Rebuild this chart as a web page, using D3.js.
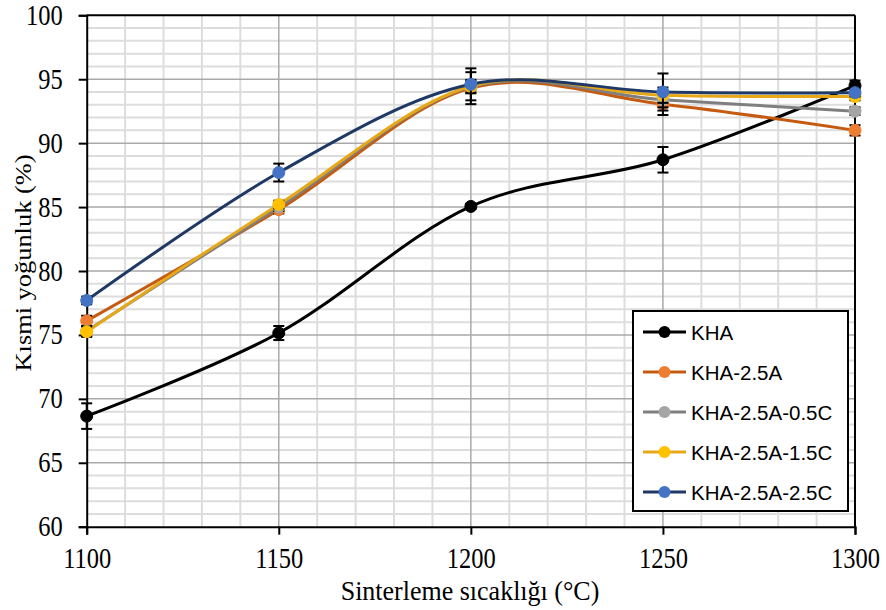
<!DOCTYPE html>
<html><head><meta charset="utf-8">
<script src="https://cdn.jsdelivr.net/npm/d3@7"></script>
<style>body{margin:0;background:#fff}svg{display:block}</style>
</head><body>
<svg id="chart" width="886" height="610"></svg>
<script>
const temps = [1100, 1150, 1200, 1250, 1300];
const seriesNames = ["KHA", "KHA-2.5A", "KHA-2.5A-0.5C", "KHA-2.5A-1.5C", "KHA-2.5A-2.5C"];
const khaValues   = [68.65, 75.15, 85.05, 88.7, 94.5];
const a25Values   = [76.1, 84.8, 94.3, 93.05, 91.0];
const c05Values   = [75.3, 85.0, 94.4, 93.4, 92.5];
const c15Values   = [75.25, 85.2, 94.45, 93.75, 93.65];
const c25Values   = [77.7, 87.7, 94.6, 94.0, 93.95];
const khaErr = [1.0, 0.55, 0.2, 1.0, 0.4];
const a25Err = [0.4, 0.3, 1.25, 0.85, 0.4];
const c05Err = [0.4, 0.3, 0.5, 0.6, 0.3];
const c15Err = [0.4, 0.3, 0.5, 0.6, 0.3];
const c25Err = [0.3, 0.7, 1.25, 1.45, 0.3];
const xTicks = [1100, 1150, 1200, 1250, 1300];
const yTicks = [60, 65, 70, 75, 80, 85, 90, 95, 100];
const lineColors = ["#000000", "#C55A11", "#7F7F7F", "#E6A817", "#203864"];
const markerColors = ["#000000", "#ED7D31", "#A5A5A5", "#FFC000", "#4472C4"];
const xTitle = "Sinterleme sıcaklığı (°C)";
const yTitle = "Kısmi yoğunluk (%)";

const allValues = [khaValues, a25Values, c05Values, c15Values, c25Values];
const allErr = [khaErr, a25Err, c05Err, c15Err, c25Err];

const svg = d3.select("#chart");
const L = 86.7, R = 855, T = 15.3, B = 526.7;
const x = d3.scaleLinear().domain([1100, 1300]).range([L, R]);
const y = d3.scaleLinear().domain([60, 100]).range([B, T]);

// minor grid
const g = svg.append("g");
g.selectAll(".mh").data(d3.range(61, 100).filter(v => v % 5 !== 0)).join("line")
  .attr("x1", L).attr("x2", R).attr("y1", d => y(d)).attr("y2", d => y(d))
  .attr("stroke", "#DDDDDD").attr("stroke-width", 2);
g.selectAll(".mv").data(d3.range(1110, 1300, 10).filter(v => v % 50 !== 0)).join("line")
  .attr("y1", T).attr("y2", B).attr("x1", d => x(d)).attr("x2", d => x(d))
  .attr("stroke", "#DDDDDD").attr("stroke-width", 2);
// major grid
g.selectAll(".Mh").data(yTicks.slice(1, -1)).join("line")
  .attr("x1", L).attr("x2", R).attr("y1", d => y(d)).attr("y2", d => y(d))
  .attr("stroke", "#A9A9A9").attr("stroke-width", 1.5);
g.selectAll(".Mv").data(xTicks.slice(1, -1)).join("line")
  .attr("y1", T).attr("y2", B).attr("x1", d => x(d)).attr("x2", d => x(d))
  .attr("stroke", "#A9A9A9").attr("stroke-width", 1.5);

// axes
const yAxis = svg.append("g").attr("transform", `translate(${L},0)`)
  .call(d3.axisLeft(y).tickValues(yTicks).tickSize(8).tickPadding(0).tickFormat(d3.format("d")));
const xAxis = svg.append("g").attr("transform", `translate(0,${B})`)
  .call(d3.axisBottom(x).tickValues(xTicks).tickSize(8).tickPadding(0).tickFormat(d3.format("d")));
[yAxis, xAxis].forEach(a => {
  a.select(".domain").attr("stroke", "#000").attr("stroke-width", 2);
  a.selectAll(".tick line").attr("stroke", "#000").attr("stroke-width", 2);
  a.selectAll("text").attr("font-family", "'Liberation Serif','Times New Roman',serif")
    .attr("font-size", 24.5).attr("fill", "#000");
});
yAxis.selectAll(".tick text").attr("x", null).attr("dy", null)
  .attr("text-anchor", "end")
  .attr("transform", "translate(-24,9) scale(1,1.2)");
xAxis.selectAll(".tick text").attr("y", null).attr("dy", null)
  .attr("transform", "translate(0,41) scale(1,1.2)");
// top and right frame
svg.append("line").attr("x1", L).attr("x2", R).attr("y1", T).attr("y2", T).attr("stroke", "#000").attr("stroke-width", 2);
svg.append("line").attr("x1", R).attr("x2", R).attr("y1", T).attr("y2", B).attr("stroke", "#000").attr("stroke-width", 2);

// series
const line = d3.line().x((d, i) => x(temps[i])).y(d => y(d)).curve(d3.curveCardinal.tension(0));
allValues.forEach((vals, s) => {
  const sg = svg.append("g");
  sg.append("path").attr("d", line(vals)).attr("fill", "none")
    .attr("stroke", lineColors[s]).attr("stroke-width", 3);
  const errs = allErr[s];
  vals.forEach((v, i) => {
    const cx = x(temps[i]);
    sg.append("line").attr("x1", cx).attr("x2", cx).attr("y1", y(v - errs[i])).attr("y2", y(v + errs[i]))
      .attr("stroke", "#000").attr("stroke-width", 2);
    [v - errs[i], v + errs[i]].forEach(e => {
      sg.append("line").attr("x1", cx - 5.5).attr("x2", cx + 5.5).attr("y1", y(e)).attr("y2", y(e))
        .attr("stroke", "#000").attr("stroke-width", 2);
    });
  });
  sg.selectAll("circle").data(vals).join("circle")
    .attr("cx", (d, i) => x(temps[i])).attr("cy", d => y(d)).attr("r", 6)
    .attr("fill", markerColors[s]).attr("stroke", markerColors[s]).attr("stroke-width", 1);
});

// titles
svg.append("text").attr("font-family", "'Liberation Serif','Times New Roman',serif")
  .attr("font-size", 26).attr("text-anchor", "middle")
  .attr("transform", `translate(470,600) scale(1,1.08)`).text(xTitle);
svg.append("text").attr("font-family", "'Liberation Serif','Times New Roman',serif")
  .attr("font-size", 24).attr("text-anchor", "middle")
  .attr("transform", `translate(31,263) rotate(-90) scale(1.1,1)`).text(yTitle);

// legend
const lg = svg.append("g");
lg.append("rect").attr("x", 633).attr("y", 311).attr("width", 215).attr("height", 200)
  .attr("fill", "#fff").attr("stroke", "#000").attr("stroke-width", 2);
seriesNames.forEach((name, i) => {
  const ly = 332 + i * 40;
  lg.append("line").attr("x1", 643).attr("x2", 686).attr("y1", ly).attr("y2", ly)
    .attr("stroke", lineColors[i]).attr("stroke-width", 3);
  lg.append("circle").attr("cx", 664.5).attr("cy", ly).attr("r", 6).attr("fill", markerColors[i]);
  lg.append("text").attr("x", 691).attr("y", ly + 7.5)
    .attr("font-family", "'Liberation Sans',Arial,sans-serif").attr("font-size", 20.5)
    .attr("fill", "#000").text(name);
});
</script>
</body></html>
